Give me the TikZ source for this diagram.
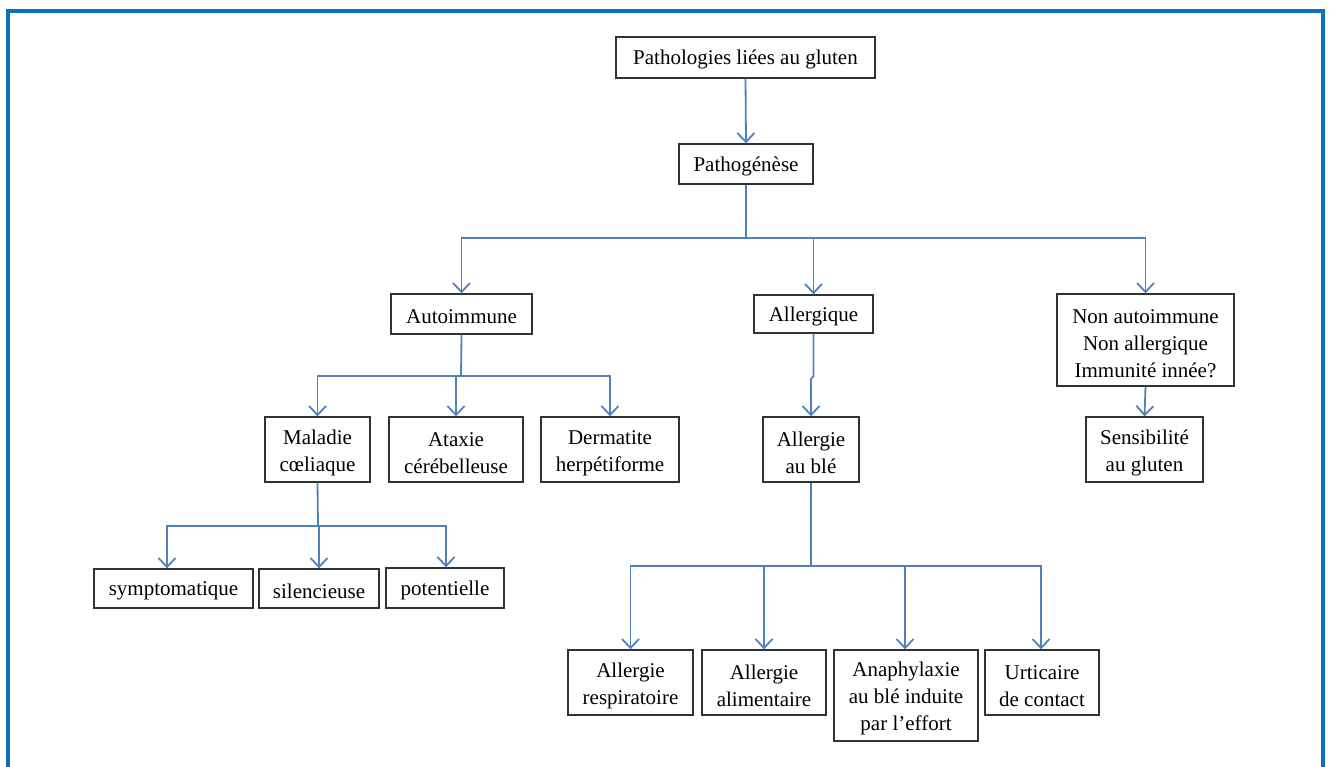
\documentclass[tikz,border=0pt]{standalone}
\usepackage{fontspec}
\setmainfont{Liberation Serif}
\usetikzlibrary{arrows.meta}
\definecolor{framecol}{RGB}{14,112,183}
\definecolor{linkcol}{RGB}{79,129,189}
\definecolor{boxcol}{RGB}{50,50,50}
\newcommand\firstl{\rule{0pt}{21pt}}
\tikzset{
  frameline/.style={draw=framecol,line width=4.5pt},
  box/.style={draw=boxcol,line width=1.4pt,fill=white,inner sep=0pt,align=center,
    font=\fontsize{21}{27}\selectfont},
  sbox/.style={box,execute at begin node={\rule{0pt}{19.5pt}}},
  link/.style={draw=linkcol,line width=1.8pt},
  arr/.style={link,-{Straight Barb[length=9pt,width=17pt,line width=1.8pt]}}
}
\begin{document}
\begin{tikzpicture}[x=1pt,y=-1pt]
\useasboundingbox (0,0) rectangle (1330,767);
\draw[frameline] (8,767) -- (8,11) -- (1323,11) -- (1323,767);

% nodes
\node[sbox,minimum width=259pt,minimum height=41pt] (root) at (745.5,57.5) {Pathologies liées au gluten};
\node[sbox,minimum width=134pt,minimum height=40pt] (patho) at (746,164) {Pathogénèse};
\node[sbox,minimum width=141pt,minimum height=40pt] (auto) at (461.5,314) {Autoimmune};
\node[sbox,minimum width=119pt,minimum height=38pt] (aller) at (813.5,314) {Allergique};
\node[box,minimum width=177pt,minimum height=92pt] (nonauto) at (1145.5,340) {\firstl Non autoimmune\\Non allergique\\Immunité innée?};
\node[box,minimum width=117pt,minimum height=65pt] (sens) at (1144.5,449.5) {\firstl Sensibilité\\au gluten};
\node[box,minimum width=105pt,minimum height=65pt] (malad) at (317.5,449.5) {\firstl Maladie\\cœliaque};
\node[box,minimum width=134pt,minimum height=65pt] (ataxie) at (456,449.5) {\firstl Ataxie\\cérébelleuse};
\node[box,minimum width=138pt,minimum height=65pt] (derm) at (610,449.5) {\firstl Dermatite\\herpétiforme};
\node[box,minimum width=96pt,minimum height=65pt] (alble) at (811,449.5) {\firstl Allergie\\au blé};
\node[sbox,minimum width=159pt,minimum height=39pt] (sympt) at (173.5,588.5) {symptomatique};
\node[sbox,minimum width=120pt,minimum height=39pt] (silenc) at (319,588.5) {silencieuse};
\node[sbox,minimum width=118pt,minimum height=40pt] (potent) at (445,588) {potentielle};
\node[box,minimum width=125pt,minimum height=65pt] (resp) at (630.5,682.5) {\firstl Allergie\\respiratoire};
\node[box,minimum width=124pt,minimum height=65pt] (alim) at (764,682.5) {\firstl Allergie\\alimentaire};
\node[box,minimum width=144pt,minimum height=91pt] (anaph) at (906,695.5) {\firstl Anaphylaxie\\au blé induite\\par l’effort};
\node[box,minimum width=114pt,minimum height=65pt] (urtic) at (1042,682.5) {\firstl Urticaire\\de contact};

% junctions
\coordinate (j1) at (746,238);
\coordinate (j2) at (461,376);
\coordinate (j3) at (318,526);
\coordinate (j4) at (811,566);
\coordinate (k1) at (813.5,376);
\coordinate (k2) at (811,379);

% connectors
\draw[arr] (root.south) -- (patho.north);
\draw[link] (patho.south) -- (j1);
\draw[arr] (j1) -| (auto.north);
\draw[arr] (j1) -| (aller.north);
\draw[arr] (j1) -| (nonauto.north);
\draw[arr] (nonauto.south) -- (sens.north);

\draw[link] (auto.south) -- (j2);
\draw[arr] (j2) -| (malad.north);
\draw[arr] (j2) -| (ataxie.north);
\draw[arr] (j2) -| (derm.north);

\draw[link] (malad.south) -- (j3);
\draw[arr] (j3) -| ([xshift=-6.5pt]sympt.north);
\draw[arr] (j3) -| (silenc.north);
\draw[arr] (j3) -| ([xshift=1pt]potent.north);

\draw[arr] (aller.south) -- (k1) -- (k2) -- (alble.north);
\draw[link] (alble.south) -- (j4);
\draw[arr] (j4) -| (resp.north);
\draw[arr] (j4) -| (alim.north);
\draw[arr] (j4) -| ([xshift=-1pt]anaph.north);
\draw[arr] (j4) -| ([xshift=-1pt]urtic.north);
\end{tikzpicture}
\end{document}
